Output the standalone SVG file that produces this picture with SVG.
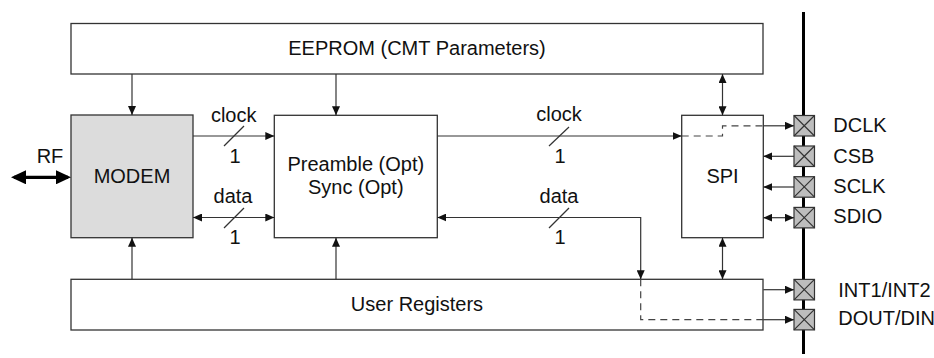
<svg xmlns="http://www.w3.org/2000/svg" width="934" height="358" viewBox="0 0 934 358">
<style>
.box{fill:#fff;stroke:#333;stroke-width:1.3}
.gray{fill:#dcdcdc}
.t{font-family:"Liberation Sans",Arial,sans-serif;font-size:20px;fill:#111}
.c{text-anchor:middle}
.ln{fill:none;stroke:#333;stroke-width:1.2}
.dash{fill:none;stroke:#444;stroke-width:1.2;stroke-dasharray:7,5}
.pad{fill:#bdbdbd;stroke:#333;stroke-width:1.2}
.x{stroke:#333;stroke-width:1.2}
</style>
<defs>
<marker id="a" markerUnits="userSpaceOnUse" markerWidth="10" markerHeight="8" refX="9" refY="4" orient="auto-start-reverse">
<path d="M0,0 L9,4 L0,8 z" fill="#111"/>
</marker>
<marker id="big" markerUnits="userSpaceOnUse" markerWidth="16" markerHeight="14" refX="12" refY="7" orient="auto-start-reverse">
<path d="M0,0 L15,7 L0,14 z" fill="#000"/>
</marker>
</defs>

<g id="bus">
<line x1="803.5" y1="12" x2="803.5" y2="354" stroke="#000" stroke-width="3"/>
</g>

<g id="eeprom">
<rect class="box" x="71" y="23.5" width="692" height="50.5"/>
<text class="t c" x="417" y="55">EEPROM (CMT Parameters)</text>
</g>
<g id="modem">
<rect class="box gray" x="71" y="115" width="122" height="122.7"/>
<text class="t c" x="132" y="183.3">MODEM</text>
</g>
<g id="preamble">
<rect class="box" x="274.3" y="115.3" width="163" height="122.4"/>
<text class="t c" x="355.8" y="170.7">Preamble (Opt)</text>
<text class="t c" x="355.8" y="194.3">Sync (Opt)</text>
</g>
<g id="spi">
<rect class="box" x="681.7" y="115.3" width="81.6" height="122.4"/>
<text class="t c" x="722.5" y="182.7">SPI</text>
</g>
<g id="userregs">
<rect class="box" x="71" y="279.3" width="692" height="50.7"/>
<text class="t c" x="417" y="311.3">User Registers</text>
</g>

<g id="connectors">
<line class="ln" x1="132" y1="74" x2="132" y2="115" marker-end="url(#a)"/>
<line class="ln" x1="336" y1="74" x2="336" y2="115.3" marker-end="url(#a)"/>
<line class="ln" x1="722.5" y1="74" x2="722.5" y2="115.3" marker-start="url(#a)" marker-end="url(#a)"/>
<line class="ln" x1="193" y1="136" x2="274.3" y2="136" marker-end="url(#a)"/>
<line class="ln" x1="193" y1="217.5" x2="274.3" y2="217.5" marker-start="url(#a)" marker-end="url(#a)"/>
<line class="ln" x1="437.3" y1="136" x2="681.7" y2="136" marker-end="url(#a)"/>
<path class="dash" d="M681.7,136 H722.5 V125.8 H763.3"/>
<line class="ln" x1="763.3" y1="125.8" x2="794" y2="125.8" marker-end="url(#a)"/>
<line class="ln" x1="794" y1="156.3" x2="763.3" y2="156.3" marker-end="url(#a)"/>
<line class="ln" x1="794" y1="187" x2="763.3" y2="187" marker-end="url(#a)"/>
<line class="ln" x1="763.3" y1="217.7" x2="794" y2="217.7" marker-start="url(#a)" marker-end="url(#a)"/>
<path class="ln" d="M437.3,217.5 H640.7 V279.3" marker-start="url(#a)" marker-end="url(#a)"/>
<path class="dash" d="M640.7,279.3 V319.7 H763.3"/>
<line class="ln" x1="763.3" y1="319.7" x2="794" y2="319.7" marker-end="url(#a)"/>
<line class="ln" x1="763.3" y1="289.7" x2="794" y2="289.7" marker-end="url(#a)"/>
<line class="ln" x1="722.5" y1="237.7" x2="722.5" y2="279.3" marker-start="url(#a)" marker-end="url(#a)"/>
<line class="ln" x1="132" y1="279.3" x2="132" y2="237.7" marker-end="url(#a)"/>
<line class="ln" x1="336" y1="279.3" x2="336" y2="237.7" marker-end="url(#a)"/>
<line x1="14" y1="177.3" x2="68" y2="177.3" stroke="#000" stroke-width="3.2" marker-start="url(#big)" marker-end="url(#big)"/>
<line class="ln" x1="224" y1="146" x2="244" y2="126"/>
<line class="ln" x1="224" y1="228" x2="244" y2="208"/>
<line class="ln" x1="549" y1="146" x2="569" y2="127"/>
<line class="ln" x1="549" y1="228" x2="569" y2="208"/>
<text class="t c" x="233.7" y="121.7">clock</text>
<text class="t c" x="235" y="162.7">1</text>
<text class="t c" x="233" y="203.3">data</text>
<text class="t c" x="235" y="244.3">1</text>
<text class="t c" x="559" y="120.7">clock</text>
<text class="t c" x="560" y="162.7">1</text>
<text class="t c" x="559" y="203.3">data</text>
<text class="t c" x="560" y="244.3">1</text>
<text class="t c" x="50" y="163.3">RF</text>
</g>

<g id="pads">
<g id="pad-dclk"><rect class="pad" x="794" y="115.5" width="20.5" height="20.5"/><path class="x" d="M794,115.5 L814.5,136 M814.5,115.5 L794,136"/><text class="t" x="833.3" y="132.3">DCLK</text></g>
<g id="pad-csb"><rect class="pad" x="794" y="146" width="20.5" height="20.5"/><path class="x" d="M794,146 L814.5,166.5 M814.5,146 L794,166.5"/><text class="t" x="833.3" y="162.7">CSB</text></g>
<g id="pad-sclk"><rect class="pad" x="794" y="176.7" width="20.5" height="20.5"/><path class="x" d="M794,176.7 L814.5,197.2 M814.5,176.7 L794,197.2"/><text class="t" x="833.3" y="192.7">SCLK</text></g>
<g id="pad-sdio"><rect class="pad" x="794" y="207.4" width="20.5" height="20.5"/><path class="x" d="M794,207.4 L814.5,227.9 M814.5,207.4 L794,227.9"/><text class="t" x="833.3" y="223.3">SDIO</text></g>
<g id="pad-int"><rect class="pad" x="794" y="279.4" width="20.5" height="20.5"/><path class="x" d="M794,279.4 L814.5,299.9 M814.5,279.4 L794,299.9"/><text class="t" x="838.3" y="296.7">INT1/INT2</text></g>
<g id="pad-dout"><rect class="pad" x="794" y="309.4" width="20.5" height="20.5"/><path class="x" d="M794,309.4 L814.5,329.9 M814.5,309.4 L794,329.9"/><text class="t" x="838.3" y="325">DOUT/DIN</text></g>
</g>
</svg>
